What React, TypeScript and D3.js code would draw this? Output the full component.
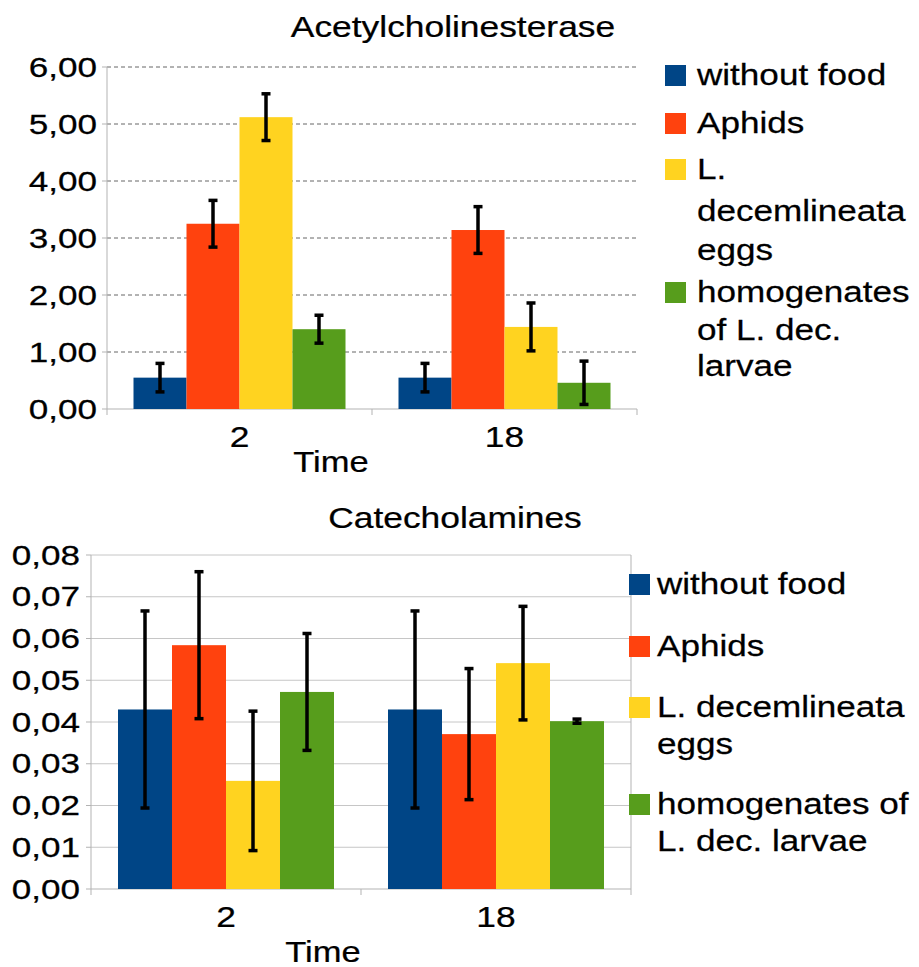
import React from 'react';
import * as d3 from 'd3';

// data
const times = ['2', '18'];
const seriesNames = ['without food', 'Aphids', 'L. decemlineata eggs', 'homogenates of L. dec. larvae'];
const seriesColors = ['#004586', '#ff420e', '#ffd320', '#579d1c'];

const acheValues = [
  [0.55, 0.55],
  [3.25, 3.14],
  [5.12, 1.44],
  [1.40, 0.46],
];
const acheErrors = [
  [0.25, 0.25],
  [0.41, 0.41],
  [0.41, 0.42],
  [0.245, 0.38],
];
const acheTicks = [0, 1, 2, 3, 4, 5, 6];
const acheLegendLines = [['without food'], ['Aphids'], ['L.', 'decemlineata', 'eggs'], ['homogenates', 'of L. dec.', 'larvae']];

const catValues = [
  [0.043, 0.043],
  [0.0584, 0.0371],
  [0.0259, 0.0541],
  [0.0472, 0.0402],
];
const catErrors = [
  [0.0236, 0.0236],
  [0.0176, 0.0157],
  [0.0167, 0.0136],
  [0.014, 0.0005],
];
const catTicks = [0, 0.01, 0.02, 0.03, 0.04, 0.05, 0.06, 0.07, 0.08];
const catLegendLines = [['without food'], ['Aphids'], ['L. decemlineata', 'eggs'], ['homogenates of', 'L. dec. larvae']];

const FONT = '"Liberation Sans", Arial, sans-serif';
const fmt = (d: number, digits: number) => d.toFixed(digits).replace('.', ',');

const Txt = ({ x, y, size, sx, anchor = 'start', children }: any) => (
  <text
    transform={`translate(${x},${y}) scale(${sx},1)`}
    fontSize={size}
    textAnchor={anchor}
    fontFamily={FONT}
    fill="#000"
    stroke="#000"
    strokeWidth={0.25}
  >
    {children}
  </text>
);

const Panel = ({ cfg }: any) => {
  const { title, titleX, titleY, left, right, top, bottom, domainMax, ticks, digits,
    values, errors, dashed, border, tickLabelX, catLabelY, timeX, timeY,
    legendLines, legendSquareX, legendTextX, legendBaselines } = cfg;

  const x0 = d3.scaleBand().domain(times).range([left, right]).padding(0);
  const x1 = d3.scaleBand()
    .domain(seriesNames)
    .range([0, x0.bandwidth()])
    .paddingInner(0)
    .paddingOuter(0.5);
  const y = d3.scaleLinear().domain([0, domainMax]).range([bottom, top]);

  const axisColor = '#b3b3b3';
  let li = 0;

  return (
    <g>
      <Txt x={titleX} y={titleY} size={29} sx={1.22} anchor="middle">{title}</Txt>

      {/* grid */}
      {ticks.map((t: number) => (
        <g key={t}>
          {t > 0 && (
            <line
              x1={left} x2={right} y1={y(t)} y2={y(t)}
              stroke={dashed ? '#666' : '#c6c6c6'}
              strokeWidth={1}
              strokeDasharray={dashed ? '4,3' : undefined}
            />
          )}
          <line x1={left - 5} x2={left} y1={y(t)} y2={y(t)} stroke={axisColor} />
          <Txt x={tickLabelX} y={y(t) + 9.5} size={27} sx={1.3} anchor="end">{fmt(t, digits)}</Txt>
        </g>
      ))}

      {/* axes */}
      <line x1={left} x2={left} y1={top} y2={bottom} stroke={axisColor} />
      {border && <line x1={right} x2={right} y1={top} y2={bottom} stroke={axisColor} />}
      <line x1={left} x2={right} y1={bottom} y2={bottom} stroke={axisColor} />
      {[left, left + x0.bandwidth(), right].map((xx) => (
        <line key={xx} x1={xx} x2={xx} y1={bottom} y2={bottom + 6} stroke={axisColor} />
      ))}

      {/* bars */}
      {times.map((t, ti) => (
        <g key={t} transform={`translate(${x0(t)},0)`}>
          {seriesNames.map((s, si) => (
            <rect
              key={s}
              x={x1(s)}
              y={y(values[si][ti])}
              width={x1.bandwidth()}
              height={bottom - y(values[si][ti])}
              fill={seriesColors[si]}
            />
          ))}
          {seriesNames.map((s, si) => {
            const cx = (x1(s) as number) + x1.bandwidth() / 2;
            const hi = y(values[si][ti] + errors[si][ti]);
            const lo = y(Math.max(0, values[si][ti] - errors[si][ti]));
            return (
              <g key={s} stroke="#000" strokeWidth={3.5}>
                <line x1={cx} x2={cx} y1={hi} y2={lo} />
                <line x1={cx - 4.5} x2={cx + 4.5} y1={hi} y2={hi} />
                <line x1={cx - 4.5} x2={cx + 4.5} y1={lo} y2={lo} />
              </g>
            );
          })}
        </g>
      ))}

      {/* category labels */}
      {times.map((t) => (
        <Txt key={t} x={(x0(t) as number) + x0.bandwidth() / 2} y={catLabelY} size={29} sx={1.22} anchor="middle">{t}</Txt>
      ))}
      <Txt x={timeX} y={timeY} size={30} sx={1.15} anchor="middle">Time</Txt>

      {/* legend */}
      {legendLines.map((lines: string[], si: number) => (
        <g key={si}>
          <rect x={legendSquareX} y={legendBaselines[li] - 20} width={21} height={21} fill={seriesColors[si]} />
          {lines.map((ln) => {
            const by = legendBaselines[li++];
            return <Txt key={ln} x={legendTextX} y={by} size={30} sx={1.17}>{ln}</Txt>;
          })}
        </g>
      ))}
    </g>
  );
};

const acheCfg = {
  title: 'Acetylcholinesterase', titleX: 453, titleY: 37,
  left: 107, right: 637, top: 67, bottom: 409, domainMax: 6, ticks: acheTicks, digits: 2,
  values: acheValues, errors: acheErrors, dashed: true, border: false,
  tickLabelX: 97, catLabelY: 447, timeX: 331, timeY: 472,
  legendLines: acheLegendLines, legendSquareX: 665, legendTextX: 697,
  legendBaselines: [85, 133, 179, 221, 260, 302, 340, 376],
};

const catCfg = {
  title: 'Catecholamines', titleX: 455, titleY: 528,
  left: 91, right: 631, top: 555, bottom: 889, domainMax: 0.08, ticks: catTicks, digits: 2,
  values: catValues, errors: catErrors, dashed: false, border: true,
  tickLabelX: 80, catLabelY: 927, timeX: 323, timeY: 962,
  legendLines: catLegendLines, legendSquareX: 629, legendTextX: 657,
  legendBaselines: [594, 656, 717, 754, 814, 851],
};

export default function App() {
  return (
    <svg
      width={919}
      height={967}
      style={{ position: 'absolute', left: 0, top: 0, background: '#fff' }}
    >
      <rect width={919} height={967} fill="#fff" />
      <Panel cfg={acheCfg} />
      <Panel cfg={catCfg} />
    </svg>
  );
}
